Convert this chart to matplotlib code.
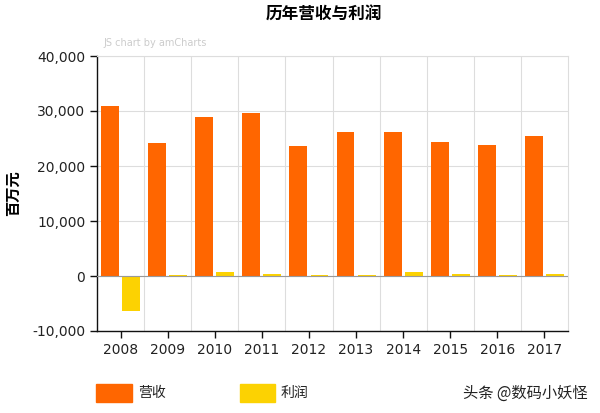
import numpy as np
import matplotlib.pyplot as plt
from matplotlib.patches import Rectangle
from matplotlib.ticker import FuncFormatter

plt.rcParams['font.family'] = ['DejaVu Sans', 'Noto Sans CJK SC']

# data (百万元)
YEARS   = ['2008', '2009', '2010', '2011', '2012', '2013', '2014', '2015', '2016', '2017']
REVENUE = [31000, 24200, 28900, 29600, 23600, 26200, 26200, 24400, 23800, 25500]
PROFIT  = [-6300, 100, 700, 400, 200, 200, 700, 400, 200, 400]

ORANGE = '#FF6600'
YELLOW = '#FCD202'
CJK = ['Noto Sans CJK SC', 'DejaVu Sans']

fig = plt.figure(figsize=(6, 4.13), dpi=100)
ax = fig.add_axes([97 / 600, 1 - 331 / 413, 471 / 600, 275 / 413])

x = np.arange(len(YEARS))
w = 0.38
ax.bar(x - 0.225, REVENUE, w, color=ORANGE, zorder=3)
ax.bar(x + 0.225, PROFIT, w, color=YELLOW, zorder=3)

ax.set_xlim(-0.5, len(YEARS) - 0.5)
ax.set_ylim(-10000, 40000)
ax.set_yticks(range(-10000, 40001, 10000))
ax.yaxis.set_major_formatter(FuncFormatter(lambda v, _: f'{int(v):,}'))
ax.set_xticks(x)
ax.set_xticklabels(YEARS)

# grid: horizontal at y ticks, vertical at category boundaries
for v in range(-10000, 40001, 10000):
    ax.axhline(v, color='#dddddd', lw=0.8, zorder=1)
for b in np.arange(0.5, len(YEARS) - 0.5, 1.0):
    ax.axvline(b, color='#dddddd', lw=0.8, zorder=1)
ax.axhline(0, color='#999999', lw=0.8, zorder=4)

for s in ['top', 'right']:
    ax.spines[s].set_color('#dddddd')
    ax.spines[s].set_linewidth(0.8)
for s in ['left', 'bottom']:
    ax.spines[s].set_color('#111111')
    ax.spines[s].set_linewidth(1.0)
ax.tick_params(axis='both', direction='out', length=5, width=1, labelsize=10,
               colors='#111111', labelcolor='#222222')

ax.set_ylabel('百万元', family=CJK, fontsize=11, fontweight='bold')
ax.yaxis.set_label_coords(-0.1615, 0.5)

fig.text(0.54, 0.965, '历年营收与利润', family=CJK, fontsize=12, fontweight='bold',
         ha='center', va='center')
fig.text(103 / 600, 1 - 43 / 413, 'JS chart by amCharts', fontsize=7,
         color='#cccccc', ha='left', va='center')

# legend
fig.patches.append(Rectangle((96 / 600, 1 - 402 / 413), 36 / 600, 18 / 413,
                             transform=fig.transFigure, color=ORANGE))
fig.text(138 / 600, 1 - 393 / 413, '营收', family=CJK, fontsize=10, va='center',
         color='#222222')
fig.patches.append(Rectangle((240 / 600, 1 - 402 / 413), 35 / 600, 18 / 413,
                             transform=fig.transFigure, color=YELLOW))
fig.text(281 / 600, 1 - 393 / 413, '利润', family=CJK, fontsize=10, va='center',
         color='#222222')

fig.text(588 / 600, 1 - 393 / 413, '头条 @数码小妖怪', family=CJK, fontsize=11,
         ha='right', va='center', color='#222222')

fig.savefig('out.png', dpi=100)
